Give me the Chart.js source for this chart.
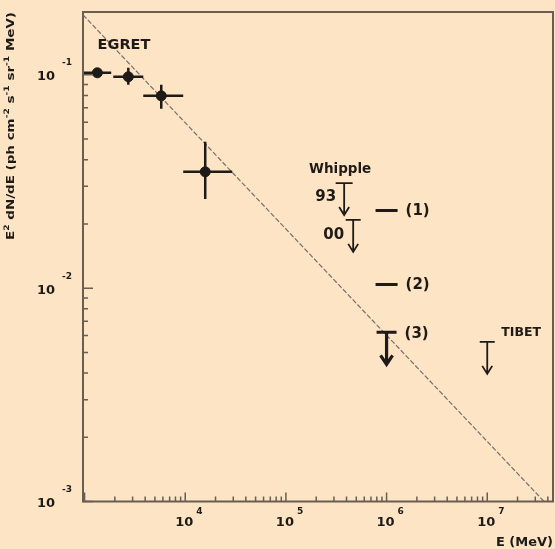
<!DOCTYPE html>
<html>
<head>
<meta charset="utf-8">
<script src="https://cdn.jsdelivr.net/npm/chart.js@4/dist/chart.umd.min.js"></script>
<style>
  html, body { margin: 0; padding: 0; background: #fce4c4; }
  #c { display: block; }
</style>
</head>
<body>
<canvas id="c" width="555" height="549"></canvas>
<script>
// ---------- data ----------
// EGRET points
const egretE        = [1340, 2720, 5780, 15800];
const egretFlux     = [0.1022, 0.0979, 0.0797, 0.0351];
const egretELow     = [965, 1928, 3830, 9550];
const egretEHigh    = [1840, 3830, 9550, 29300];
const egretFluxLow  = [0.0990, 0.0898, 0.0693, 0.0262];
const egretFluxHigh = [0.1050, 0.1080, 0.0898, 0.0485];

// spectral power-law line (end points)
const lineE    = [965, 3.67e7];
const lineFlux = [0.191, 0.001];

// horizontal marks (1), (2)
const markE      = [1e6, 1e6];
const markFlux   = [0.0231, 0.0104];
const markLabels = ['(1)', '(2)'];

// upper limits: Whipple 93, Whipple 00, (3), TIBET
const ulE      = [3.79e5, 4.66e5, 1e6, 1e7];
const ulFlux   = [0.0311, 0.0209, 0.00621, 0.0056];
const ulLabels = ['93', '00', '(3)', 'TIBET'];

// axis ticks
const xTickValues = [1e4, 1e5, 1e6, 1e7];
const xTickExps   = ['4', '5', '6', '7'];
const yTickValues = [1e-1, 1e-2, 1e-3];
const yTickExps   = ['-1', '-2', '-3'];
const xRange = [965, 4.5e7];
const yRange = [1e-3, 0.197];

const xTitle = 'E (MeV)';
const yTitleParts = [
  ['E', false], ['2', true], [' dN/dE (ph cm', false], ['-2', true],
  [' s', false], ['-1', true], [' sr', false], ['-1', true], [' MeV)', false]
];

// ---------- styles ----------
const BG = '#fce4c4';
const AXIS = '#6a5d52';
const INK = '#1e1a17';
const FONT = '"DejaVu Sans", sans-serif';
const AREA = { left: 83, top: 12, right: 553, bottom: 501.5 };

const pts = (xs, ys) => xs.map((x, i) => ({ x: x, y: ys[i] }));

const bgPlugin = {
  id: 'bg',
  beforeDraw(chart) {
    const ctx = chart.ctx;
    ctx.save();
    ctx.fillStyle = BG;
    ctx.fillRect(0, 0, chart.width, chart.height);
    ctx.restore();
  }
};

// make the plot area exactly match the reference frame
const areaPlugin = {
  id: 'area',
  afterLayout(chart) {
    const a = chart.chartArea;
    a.left = AREA.left; a.top = AREA.top; a.right = AREA.right; a.bottom = AREA.bottom;
    a.width = a.right - a.left; a.height = a.bottom - a.top;
    const xs = chart.scales.x, ys = chart.scales.y;
    xs.left = a.left; xs.right = a.right; xs.width = a.width;
    ys.top = a.top; ys.bottom = a.bottom; ys.height = a.height;
    xs.configure(); ys.configure();
  }
};

const errPlugin = {
  id: 'errbars',
  afterDatasetsDraw(chart) {
    const ctx = chart.ctx, xs = chart.scales.x, ys = chart.scales.y;
    ctx.save();
    ctx.strokeStyle = INK;
    ctx.lineWidth = 2.5;
    ctx.lineCap = 'butt';
    for (let i = 0; i < egretE.length; i++) {
      const px = xs.getPixelForValue(egretE[i]);
      const py = ys.getPixelForValue(egretFlux[i]);
      ctx.beginPath();
      ctx.moveTo(xs.getPixelForValue(egretELow[i]), py);
      ctx.lineTo(xs.getPixelForValue(egretEHigh[i]), py);
      ctx.moveTo(px, ys.getPixelForValue(egretFluxLow[i]));
      ctx.lineTo(px, ys.getPixelForValue(egretFluxHigh[i]));
      ctx.stroke();
    }
    // upper-limit arrows
    for (let i = 0; i < ulE.length; i++) {
      const px = xs.getPixelForValue(ulE[i]);
      const py = ys.getPixelForValue(ulFlux[i]);
      const thick = ulLabels[i] === '(3)';
      const L = 32, hw = thick ? 6 : 5, hh = thick ? 9 : 8;
      ctx.lineWidth = thick ? 3.2 : 1.8;
      ctx.beginPath();
      ctx.moveTo(px, py);
      ctx.lineTo(px, py + L);
      ctx.moveTo(px - hw, py + L - hh);
      ctx.lineTo(px, py + L);
      ctx.lineTo(px + hw, py + L - hh);
      ctx.stroke();
    }
    ctx.restore();
  }
};

const axesPlugin = {
  id: 'axesdeco',
  afterDraw(chart) {
    const ctx = chart.ctx, xs = chart.scales.x, ys = chart.scales.y;
    const a = chart.chartArea;
    ctx.save();
    // box
    ctx.strokeStyle = AXIS;
    ctx.lineWidth = 2;
    ctx.strokeRect(a.left, a.top, a.right - a.left, a.bottom - a.top);
    // minor / major ticks (inside)
    ctx.lineWidth = 1.5;
    ctx.beginPath();
    for (let d = 2; d <= 8; d++) {
      for (let m = 1; m <= 9; m++) {
        const v = m * Math.pow(10, d);
        if (v < xRange[0] || v > xRange[1]) continue;
        const px = xs.getPixelForValue(v);
        const len = m === 1 ? 9 : 5;
        ctx.moveTo(px, a.bottom);
        ctx.lineTo(px, a.bottom - len);
      }
    }
    for (let d = -4; d <= 0; d++) {
      for (let m = 1; m <= 9; m++) {
        const v = m * Math.pow(10, d);
        if (v < yRange[0] || v > yRange[1]) continue;
        const py = ys.getPixelForValue(v);
        const len = m === 1 ? 10 : 5;
        ctx.moveTo(a.left, py);
        ctx.lineTo(a.left + len, py);
      }
    }
    ctx.stroke();

    ctx.fillStyle = INK;
    // x tick labels
    xTickValues.forEach((v, i) => {
      const px = xs.getPixelForValue(v);
      ctx.font = 'bold 13px ' + FONT;
      ctx.textAlign = 'center';
      ctx.textBaseline = 'middle';
      ctx.fillText('10', px - 1, a.bottom + 21);
      const w = ctx.measureText('10').width;
      ctx.font = 'bold 9px ' + FONT;
      ctx.textAlign = 'left';
      ctx.fillText(xTickExps[i], px - 1 + w / 2 + 3, a.bottom + 10);
    });
    // y tick labels
    yTickValues.forEach((v, i) => {
      const py = ys.getPixelForValue(v);
      ctx.font = 'bold 13px ' + FONT;
      ctx.textAlign = 'right';
      ctx.textBaseline = 'middle';
      ctx.fillText('10', a.left - 28, py + 2);
      ctx.font = 'bold 9px ' + FONT;
      ctx.textAlign = 'left';
      ctx.fillText(yTickExps[i], a.left - 21, py - 12);
    });
    // x title
    ctx.font = 'bold 13px ' + FONT;
    ctx.textAlign = 'right';
    ctx.textBaseline = 'middle';
    ctx.fillText(xTitle, a.right, a.bottom + 41);
    // y title (rotated, stretched along its length like the scan)
    ctx.save();
    ctx.translate(11, 240);
    ctx.rotate(-Math.PI / 2);
    let total = 0;
    yTitleParts.forEach(([t, sup]) => {
      ctx.font = (sup ? 'bold 7.5px ' : 'bold 11px ') + FONT;
      total += ctx.measureText(t).width;
    });
    ctx.scale(228 / total, 1);
    let cx = 0;
    ctx.textAlign = 'left';
    ctx.textBaseline = 'middle';
    yTitleParts.forEach(([t, sup]) => {
      ctx.font = (sup ? 'bold 7.5px ' : 'bold 11px ') + FONT;
      ctx.fillText(t, cx, sup ? -4 : 0);
      cx += ctx.measureText(t).width;
    });
    ctx.restore();

    // annotations
    ctx.textBaseline = 'middle';
    ctx.font = 'bold 14.5px ' + FONT;
    ctx.textAlign = 'center';
    ctx.fillText('EGRET', a.left + 41, a.top + 33);

    const ux = i => xs.getPixelForValue(ulE[i]);
    const uy = i => ys.getPixelForValue(ulFlux[i]);
    ctx.font = 'bold 13.5px ' + FONT;
    ctx.textAlign = 'center';
    ctx.fillText('Whipple', ux(0) - 4, uy(0) - 14);
    ctx.font = 'bold 15px ' + FONT;
    ctx.textAlign = 'right';
    ctx.fillText(ulLabels[0], ux(0) - 8, uy(0) + 14);
    ctx.fillText(ulLabels[1], ux(1) - 9, uy(1) + 15);
    ctx.textAlign = 'left';
    ctx.fillText(ulLabels[2], ux(2) + 18, uy(2) + 2);
    markE.forEach((e, i) => {
      ctx.fillText(markLabels[i], xs.getPixelForValue(e) + 19, ys.getPixelForValue(markFlux[i]) + 1);
    });
    ctx.font = 'bold 12.5px ' + FONT;
    ctx.fillText(ulLabels[3], ux(3) + 14, uy(3) - 9);
    ctx.restore();
  }
};

new Chart(document.getElementById('c'), {
  type: 'scatter',
  data: {
    datasets: [
      {
        type: 'line',
        data: pts(lineE, lineFlux),
        borderColor: '#77706a',
        borderWidth: 1.2,
        borderDash: [5, 2],
        pointRadius: 0,
        fill: false,
        order: 5
      },
      {
        data: pts(egretE, egretFlux),
        backgroundColor: INK,
        borderColor: INK,
        pointRadius: 5,
        order: 1
      },
      {
        data: pts(markE, markFlux),
        pointStyle: 'line',
        pointRadius: 11,
        borderColor: INK,
        borderWidth: 3,
        order: 2
      },
      {
        data: pts(ulE, ulFlux),
        pointStyle: 'line',
        pointRadius: [8.5, 7.5, 10, 7.5],
        borderColor: INK,
        borderWidth: [1.8, 1.8, 3, 1.8],
        order: 3
      }
    ]
  },
  options: {
    responsive: false,
    animation: false,
    devicePixelRatio: 1,
    layout: { padding: { left: 83, right: 2, top: 12, bottom: 47.5 } },
    plugins: { legend: { display: false }, tooltip: { enabled: false } },
    scales: {
      x: {
        type: 'logarithmic',
        min: xRange[0], max: xRange[1],
        grid: { display: false, drawTicks: false },
        border: { display: false },
        ticks: { display: false },
        afterFit: s => { s.height = 0; }
      },
      y: {
        type: 'logarithmic',
        min: yRange[0], max: yRange[1],
        grid: { display: false, drawTicks: false },
        border: { display: false },
        ticks: { display: false },
        afterFit: s => { s.width = 0; }
      }
    }
  },
  plugins: [bgPlugin, areaPlugin, errPlugin, axesPlugin]
});
</script>
</body>
</html>
